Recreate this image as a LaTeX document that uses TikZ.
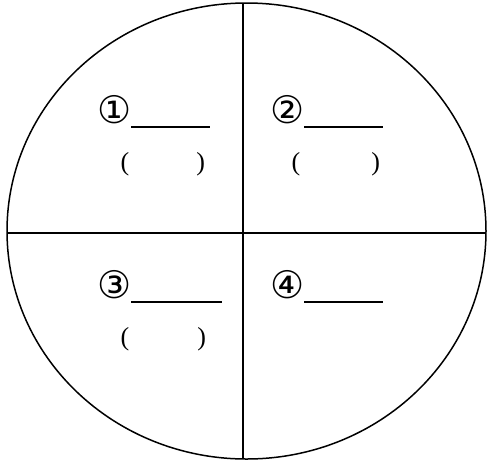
\documentclass[tikz,border=0pt]{standalone}
\usepackage{fontspec}
\setmainfont{Liberation Serif}
\newfontfamily\circfont{DejaVu Sans}
\tikzset{
  frame/.style={line width=1.5pt},
  numlbl/.style={anchor=base west, inner sep=0pt, font=\fontsize{20}{24}\selectfont},
  paren/.style={anchor=base west, inner sep=0pt, font=\fontsize{26}{30}\selectfont}
}
\newcommand{\circnum}[1]{{\circfont\fontsize{38}{42}\selectfont #1}}
\newcommand{\blankline}[1]{\rule[-4.5pt]{#1}{1.5pt}}
\begin{document}
\begin{tikzpicture}[x=1pt,y=-1pt]
\useasboundingbox (0,0) rectangle (489,463);
\draw[frame] (246.5,231) ellipse [x radius=239.5, y radius=228];
\coordinate (top) at (243,3.1);
\coordinate (bot) at (243,458.9);
\coordinate (lft) at (7.0,233);
\coordinate (rgt) at (486.0,233);
\draw[frame] (top) -- (bot);
\draw[frame] (lft) -- (rgt);
\node[numlbl] (n1) at (97,123) {\circnum{①}\blankline{79pt}};
\node[paren] (p1) at (120.5,170) {(\hspace{67pt})};
\node[numlbl] (n2) at (270,123) {\circnum{②}\blankline{79pt}};
\node[paren] (p2) at (291.5,170) {(\hspace{71pt})};
\node[numlbl] (n3) at (97,298) {\circnum{③}\blankline{91pt}};
\node[paren] (p3) at (120.5,345) {(\hspace{68pt})};
\node[numlbl] (n4) at (270,298) {\circnum{④}\blankline{79pt}};
\end{tikzpicture}
\end{document}
